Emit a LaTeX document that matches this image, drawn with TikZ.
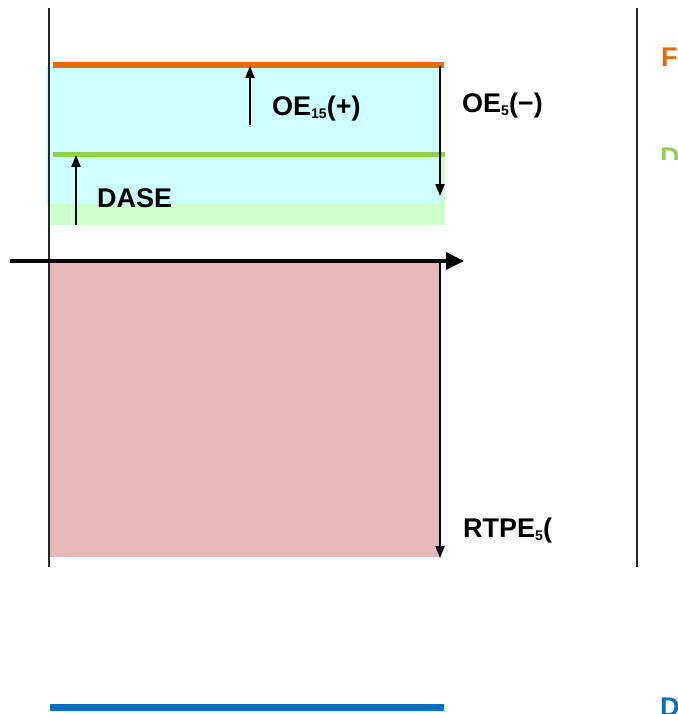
\documentclass[tikz,border=0pt]{standalone}
\usepackage{fontspec}
\setmainfont{Liberation Sans}
\usetikzlibrary{arrows.meta}
\definecolor{cyanfill}{HTML}{CCFFFF}
\definecolor{greenfill}{HTML}{CCFFCC}
\definecolor{pinkfill}{HTML}{E6B9B8}
\definecolor{orangeline}{HTML}{E36C09}
\definecolor{greenline}{HTML}{92D050}
\definecolor{blueline}{HTML}{0070C0}
\newcommand{\lowidx}[1]{\raisebox{-3pt}{\fontsize{14}{14}\selectfont #1}}
\tikzset{
  lbl/.style={anchor=base west, inner sep=0pt, font=\fontsize{27}{30}\selectfont\bfseries},
  vline/.style={line width=2pt, black!85},
  marrow/.style={line width=2pt, -{Triangle[length=12pt,width=9pt]}},
  axisarrow/.style={line width=3.5pt, -{Triangle[length=18pt,width=17pt]}},
}
\begin{document}
\begin{tikzpicture}[x=1pt,y=-1pt]
\path[use as bounding box, clip] (0,0) rectangle (677,714);
% fills
\fill[greenfill] (50,155) rectangle (445,225);
\fill[cyanfill] (46,66) rectangle (440,204);
\fill[pinkfill] (50,262) rectangle (440,557);
% vertical frame lines
\coordinate (l1) at (49,8);
\coordinate (l2) at (49,567);
\coordinate (r1) at (637,8);
\coordinate (r2) at (637,567);
\draw[vline] (l1) -- (l2);
\draw[vline] (r1) -- (r2);
% colored level lines
\coordinate (o1) at (53,65);
\coordinate (o2) at (444,65);
\draw[orangeline, line width=6pt] (o1) -- (o2);
\coordinate (g1) at (53,155);
\coordinate (g2) at (445,155);
\draw[greenline, line width=5pt] (g1) -- (g2);
\coordinate (b1) at (50,707);
\coordinate (b2) at (444,707);
\draw[blueline, line width=7pt] (b1) -- (b2);
% axis
\coordinate (ax1) at (10,261);
\coordinate (ax2) at (464,261);
\draw[axisarrow] (ax1) -- (ax2);
% arrows
\coordinate (a1s) at (250,125);
\coordinate (a1e) at (250,66);
\draw[marrow] (a1s) -- (a1e);
\coordinate (a2s) at (440,66);
\coordinate (a2e) at (440,196);
\draw[marrow] (a2s) -- (a2e);
\coordinate (a3s) at (76,225);
\coordinate (a3e) at (76,155);
\draw[marrow] (a3s) -- (a3e);
\coordinate (a4s) at (440,263);
\coordinate (a4e) at (440,558);
\draw[marrow] (a4s) -- (a4e);
% labels
\node[lbl] (oe15) at (272,116) {OE\lowidx{15}(+)};
\node[lbl] (oe5) at (462,113) {OE\lowidx{5}(−)};
\node[lbl] (dase) at (97,207) {DASE};
\node[lbl] (rtpe) at (463,537) {RTPE\lowidx{5}(};
\node[lbl, text=orangeline] (ff) at (661,67) {F};
\begin{scope}
\clip (600,0) rectangle (677,160);
\node[lbl, text=greenline] (dg) at (660,167) {D};
\end{scope}
\node[lbl, text=blueline] (db) at (660,716) {D};
\end{tikzpicture}
\end{document}
